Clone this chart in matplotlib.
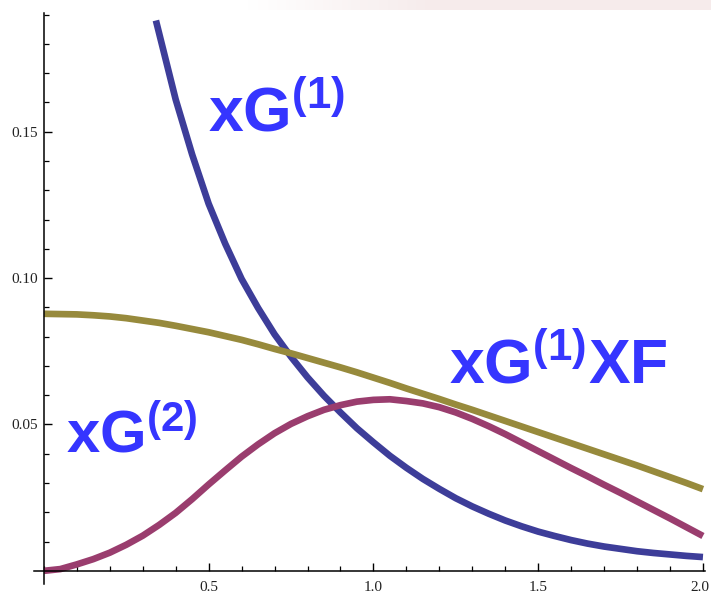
import numpy as np
import matplotlib
matplotlib.use("Agg")
import matplotlib.pyplot as plt
import matplotlib.transforms as mtransforms
from matplotlib.ticker import MultipleLocator, FormatStrFormatter

plt.rcParams['mathtext.fontset'] = 'custom'
plt.rcParams['mathtext.rm'] = 'Liberation Sans:bold'
plt.rcParams['mathtext.bf'] = 'Liberation Sans:bold'
plt.rcParams['mathtext.default'] = 'rm'

# xG(1): steep falling curve
x_g1 = [0.34, 0.35, 0.40, 0.45, 0.50, 0.55, 0.60, 0.65, 0.70, 0.75, 0.80,
        0.85, 0.90, 0.95, 1.00, 1.05, 1.10, 1.15, 1.20, 1.25, 1.30, 1.35,
        1.40, 1.45, 1.50, 1.55, 1.60, 1.65, 1.70, 1.75, 1.80, 1.85, 1.90,
        1.95, 2.00]
y_g1 = [0.188, 0.1835, 0.161, 0.1422, 0.1254, 0.1118, 0.0997, 0.0898,
        0.0808, 0.0731, 0.0661, 0.0598, 0.0541, 0.0487, 0.0439, 0.0393,
        0.0352, 0.0314, 0.0280, 0.0248, 0.0220, 0.0195, 0.0172, 0.0152,
        0.0134, 0.0119, 0.0105, 0.0093, 0.0083, 0.0075, 0.0067, 0.0061,
        0.0056, 0.0051, 0.0047]

# shared x grid for the other two curves
x_grid = [0.00, 0.05, 0.10, 0.15, 0.20, 0.25, 0.30, 0.35, 0.40, 0.45, 0.50,
          0.55, 0.60, 0.65, 0.70, 0.75, 0.80, 0.85, 0.90, 0.95, 1.00, 1.05,
          1.10, 1.15, 1.20, 1.25, 1.30, 1.35, 1.40, 1.45, 1.50, 1.55, 1.60,
          1.65, 1.70, 1.75, 1.80, 1.85, 1.90, 1.95, 2.00]
# xG(1) XF (olive)
y_g1xf = [0.0878, 0.0877, 0.0876, 0.0873, 0.0869, 0.0863, 0.0855, 0.0847,
          0.0837, 0.0826, 0.0815, 0.0802, 0.0789, 0.0774, 0.0758, 0.0743,
          0.0727, 0.0711, 0.0695, 0.0678, 0.0660, 0.0642, 0.0623, 0.0605,
          0.0587, 0.0568, 0.0550, 0.0531, 0.0512, 0.0493, 0.0474, 0.0455,
          0.0436, 0.0417, 0.0398, 0.0379, 0.0360, 0.0340, 0.0320, 0.0300,
          0.0279]
# xG(2) (magenta)
y_g2 = [0.0, 0.0006, 0.0022, 0.0040, 0.0062, 0.0089, 0.0120, 0.0157,
        0.0198, 0.0245, 0.0295, 0.0343, 0.0390, 0.0432, 0.0470, 0.0502,
        0.0528, 0.0550, 0.0566, 0.0578, 0.0584, 0.0586, 0.0580, 0.0572,
        0.0559, 0.0541, 0.0519, 0.0494, 0.0467, 0.0438, 0.0409, 0.0380,
        0.0351, 0.0323, 0.0294, 0.0266, 0.0237, 0.0208, 0.0179, 0.0149,
        0.0119]

c_blue = '#3d3d99'
c_olive = '#978a3c'
c_mag = '#9a3d6e'
c_label = '#3535ff'

fig = plt.figure(figsize=(7.11, 5.98), dpi=100)

# faint pinkish strip along the top edge (slide background showing through)
bg = fig.add_axes([0.0, 0.983, 1.0, 0.017])
grad = np.clip((np.linspace(0, 1, 300) - 0.35) / 0.25, 0, 1)
img = np.ones((1, 300, 3))
pink = np.array([0.965, 0.925, 0.925])
img[0] = 1 - grad[:, None] * (1 - pink)
bg.imshow(img, aspect='auto', extent=[0, 1, 0, 1])
bg.axis('off')

ax = fig.add_axes([0.0478, 0.0234, 0.9432, 0.9546])
lw = 4.8
ax.plot(x_g1, y_g1, color=c_blue, lw=lw, solid_capstyle='butt')
ax.plot(x_grid, y_g1xf, color=c_olive, lw=lw, solid_capstyle='butt')
ax.plot(x_grid, y_g2, color=c_mag, lw=lw, solid_capstyle='butt')

ax.set_xlim(-0.03, 2.005)
ax.set_ylim(-0.0045, 0.1905)

for s in ['top', 'right']:
    ax.spines[s].set_visible(False)
ax.spines['left'].set_position(('data', 0))
ax.spines['bottom'].set_position(('data', 0))
ax.spines['left'].set_linewidth(1.1)
ax.spines['bottom'].set_linewidth(1.1)

ax.set_xticks([0.5, 1.0, 1.5, 2.0])
ax.set_yticks([0.05, 0.10, 0.15])
ax.xaxis.set_minor_locator(MultipleLocator(0.1))
ax.yaxis.set_minor_locator(MultipleLocator(0.01))
ax.xaxis.set_major_formatter(FormatStrFormatter('%.1f'))
ax.yaxis.set_major_formatter(FormatStrFormatter('%.2f'))
ax.tick_params(which='major', direction='in', length=6, width=1.0,
               labelsize=11, labelcolor='#222222')
ax.tick_params(axis='x', which='major', pad=7)
ax.tick_params(axis='y', which='major', pad=4)
ax.tick_params(which='minor', direction='in', length=3.5, width=0.9)
for lab in ax.get_xticklabels() + ax.get_yticklabels():
    lab.set_family('Liberation Serif')

# the last x label sits right at the image edge; nudge it in a little
fig.canvas.draw()
last = ax.get_xticklabels()[-1]
last.set_transform(last.get_transform() +
                   mtransforms.ScaledTranslation(-3 / 100, 0, fig.dpi_scale_trans))
ax.set_facecolor('none')

ax.text(0.497, 0.1500, r'$xG^{(1)}$', color=c_label, fontsize=45)
ax.text(0.068, 0.0405, r'$xG^{(2)}$', color=c_label, fontsize=43)
ax.text(1.230, 0.0640, r'$xG^{(1)}XF$', color=c_label, fontsize=45)

fig.savefig('out.png', dpi=100)
